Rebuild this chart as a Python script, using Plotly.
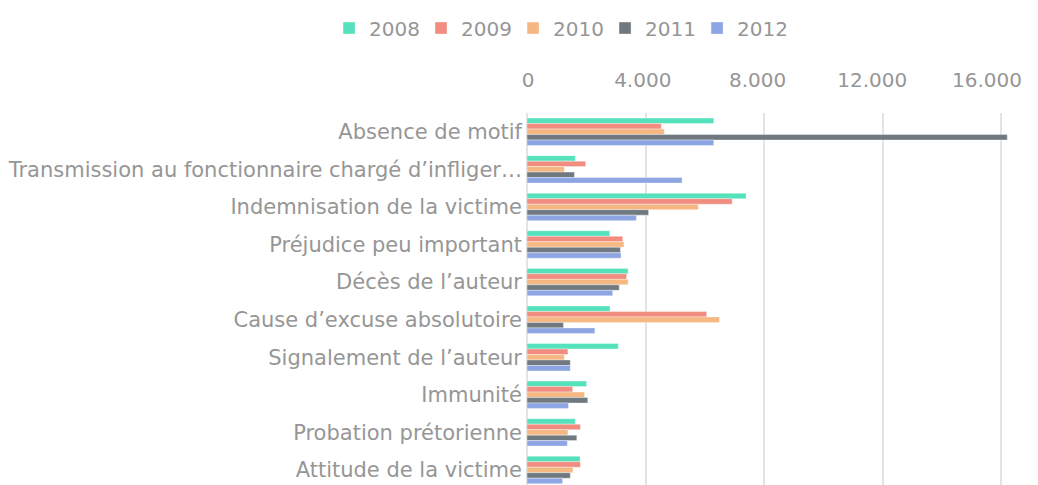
import plotly.graph_objects as go

categories = [
    "Absence de motif",
    "Transmission au fonctionnaire chargé d’infliger…",
    "Indemnisation de la victime",
    "Préjudice peu important",
    "Décès de l’auteur",
    "Cause d’excuse absolutoire",
    "Signalement de l’auteur",
    "Immunité",
    "Probation prétorienne",
    "Attitude de la victime",
]
years = ["2008", "2009", "2010", "2011", "2012"]
v2008 = [6300, 1630, 7390, 2790, 3410, 2800, 3080, 2010, 1630, 1790]
v2009 = [4530, 1980, 6920, 3230, 3360, 6060, 1380, 1540, 1800, 1800]
v2010 = [4630, 1260, 5780, 3270, 3410, 6490, 1260, 1940, 1380, 1550]
v2011 = [16200, 1600, 4100, 3150, 3110, 1230, 1460, 2050, 1680, 1460]
v2012 = [6300, 5230, 3690, 3170, 2890, 2290, 1460, 1400, 1360, 1200]
series = [v2008, v2009, v2010, v2011, v2012]
colors = ["#54E1BB", "#F18C80", "#F6B882", "#707980", "#8EA5E3"]
tick_vals = [0, 4000, 8000, 12000, 16000]
tick_text = ["0", "4.000", "8.000", "12.000", "16.000"]

FONT = "DejaVu Sans"
GREY = "#969696"

fig = go.Figure()
for y, vals, c in zip(years, series, colors):
    fig.add_trace(go.Bar(
        name=y, y=categories, x=vals, orientation="h",
        marker=dict(color=c, line=dict(color="rgba(255,255,255,0.6)", width=0.6)),
    ))

# transparent carrier so the label axis (x2) gets drawn
fig.add_trace(go.Scatter(
    x=v2011, y=categories, xaxis="x2", mode="markers",
    marker=dict(opacity=0), showlegend=False, hoverinfo="skip",
))

fig.update_layout(
    width=1030, height=477,
    margin=dict(l=519, r=7, t=105, b=0, autoexpand=False),
    paper_bgcolor="white", plot_bgcolor="white",
    barmode="group", bargap=0.27, bargroupgap=0,
    font=dict(family=FONT, color=GREY, size=21),
    legend=dict(orientation="h", x=0.535, xanchor="center", xref="container",
                y=0.958, yanchor="middle", yref="container",
                font=dict(size=20, color=GREY), traceorder="normal",
                itemwidth=30, entrywidth=47, entrywidthmode="pixels"),
    xaxis=dict(side="top", range=[0, 17000], tickvals=tick_vals,
               showticklabels=False,
               showgrid=True, gridcolor="#e3e3e3", gridwidth=1.5,
               zeroline=True, zerolinecolor="#e3e3e3", zerolinewidth=1.5,
               ticks="", showline=False, automargin=False),
    # label axis: Excel-style tick label placement, slightly compressed
    xaxis2=dict(overlaying="x", side="top", range=[-35, 17532],
                tickvals=tick_vals, ticktext=tick_text,
                showgrid=False, zeroline=False, showline=False, ticks="",
                tickfont=dict(size=20, color=GREY), automargin=False,
                ticklabelstandoff=21),
    yaxis=dict(autorange=False, range=[9.4, -0.5], categoryorder="array",
               categoryarray=categories, tickfont=dict(size=21, color=GREY),
               ticks="", showline=False, showgrid=False, ticklabelstandoff=4,
               automargin=False),
)

fig.write_html("out.html")
